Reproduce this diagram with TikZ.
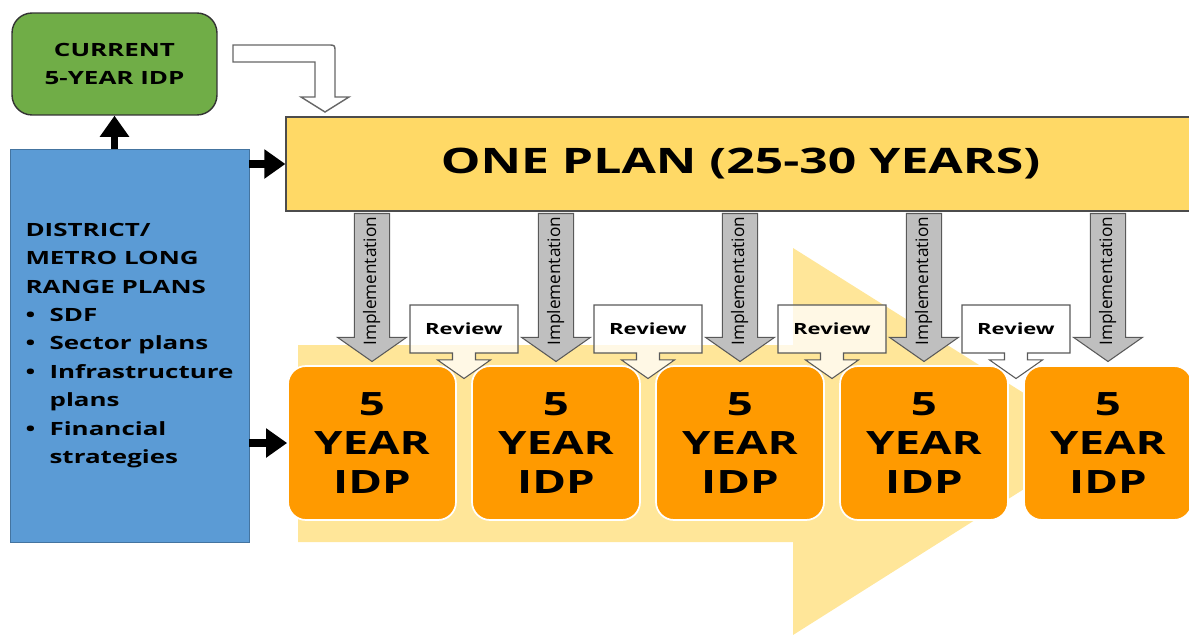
\documentclass[tikz,border=0pt]{standalone}
\usepackage{fontspec}
\setmainfont{Open Sans}
\newfontfamily\widefont{Open Sans}[FakeStretch=1.42]
\usetikzlibrary{arrows.meta,shapes.arrows}

\definecolor{planyellow}{HTML}{FFD966}
\definecolor{bgyellow}{HTML}{FFE699}
\definecolor{idporange}{HTML}{FF9A00}
\definecolor{rangeblue}{HTML}{5B9BD5}
\definecolor{idpgreen}{HTML}{70AD47}
\definecolor{implgray}{HTML}{BFBFBF}

\tikzset{
	link/.style	= {line width=4.5pt, -{Triangle[length=12pt,width=16pt]}},
	idp/.style	= {fill=idporange, draw=white, line width=1pt, rounded corners=0.36cm,
			   minimum width=3.36cm, minimum height=3.08cm, inner sep=0pt, align=center,
			   font=\widefont\bfseries\fontsize{18.3}{22.2}\selectfont},
	impl/.style	= {single arrow, rotate=90, shape border rotate=180, anchor=tip,
			   draw=black!65, fill=implgray, line width=0.6pt,
			   minimum height=2.96cm, single arrow head extend=0.34cm, single arrow tip angle=110,
			   text height=7.4pt, text depth=2.6pt, inner xsep=-4pt, inner ysep=4.7pt,
			   font=\fontsize{9.8}{11}\selectfont},
	review/.style	= {arrow box, arrow box arrows={south:0.5cm}, arrow box shaft width=0.46cm,
			   arrow box head extend=0.3cm, arrow box tip angle=110,
			   draw=black!65, fill=white, fill opacity=0.75, text opacity=1, line width=0.6pt,
			   minimum width=2.16cm, minimum height=0.96cm, inner sep=0pt,
			   font=\widefont\bfseries\fontsize{8.8}{10}\selectfont},
}

\begin{document}
\begin{tikzpicture}[x=0.02cm, y=-0.02cm]
	\useasboundingbox (0,0) rectangle (1189,635);

	% timeline arrow behind the IDPs
	\fill[bgyellow] (298,345) -- (793,345) -- (793,248) -- (1100,441) -- (793,635) -- (793,542) -- (298,542) -- cycle;

	\node (plan) at (740.5,164)	[draw=black!70, fill=planyellow, line width=0.8pt, minimum width=18.18cm, minimum height=1.88cm,
					 font=\widefont\bfseries\fontsize{20}{24}\selectfont]	{ONE PLAN (25-30 YEARS)};
	\node (range) at (129.5,345.5)	[draw=rangeblue!75!black, fill=rangeblue, line width=0.5pt, minimum width=4.78cm, minimum height=7.86cm,
					 align=left, font=\widefont\bfseries\fontsize{10.4}{16.2}\selectfont]
		{DISTRICT/\\METRO LONG\\RANGE PLANS\\
		 \makebox[13.7pt][l]{\textbullet}SDF\\
		 \makebox[13.7pt][l]{\textbullet}Sector plans\\
		 \makebox[13.7pt][l]{\textbullet}Infrastructure\\
		 \hspace*{13.7pt}plans\\
		 \makebox[13.7pt][l]{\textbullet}Financial\\
		 \hspace*{13.7pt}strategies};
	\node (current) at (114.5,64)	[draw=black!80, fill=idpgreen, line width=0.8pt, rounded corners=0.4cm,
					 minimum width=4.1cm, minimum height=2.04cm, align=center,
					 font=\widefont\bfseries\fontsize{10.4}{15.5}\selectfont]	{CURRENT\\5-YEAR IDP};

	\foreach \i in {1,...,5}
		\node[idp] (idp\i) at ({372+184*(\i-1)},443) {5\\YEAR\\IDP};
	\foreach \i in {1,...,4}
		\node[review] (review\i) at ({464+184*(\i-1)},329) {Review};
	\foreach \i in {1,...,5}
		\node[impl] (impl\i) at ([yshift=0.06cm]idp\i.north) {Implementation};

	% hollow bent arrow into the plan
	\draw[draw=black!60, fill=white, line width=0.8pt] (233,45) -- (328,45) .. controls (335,45) .. (335,52) -- (335,97)
		-- (349,97) -- (325,112) -- (301,97) -- (315,97) -- (315,62) -- (233,62) -- cycle;

	\draw[link] (current.south |- range.north) -- (current.south);
	\draw[link] (range.east |- plan.west) -- (plan.west);
	\draw[link] (range.east |- idp1.west) -- (idp1.west);
\end{tikzpicture}
\end{document}
